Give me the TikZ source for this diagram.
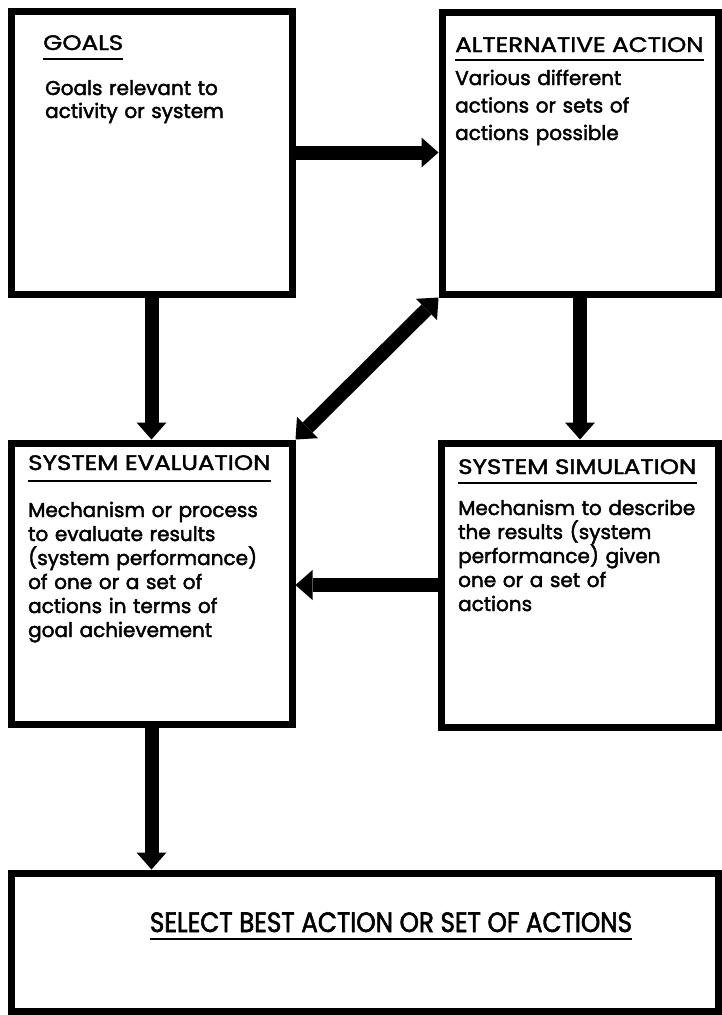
\documentclass[tikz,border=0pt]{standalone}
\usepackage{fontspec}
\setmainfont{Poppins}[FakeBold=2.2]
\newfontfamily\headfont[FakeBold=1.8, FakeStretch=1.17]{Poppins}
\newfontfamily\narrowfont[FakeBold=2, FakeStretch=0.88]{Poppins}
\usetikzlibrary{arrows.meta}

\tikzset{
  box/.style={draw, line width=7pt, inner sep=0pt},
  title/.style={anchor=base west, inner sep=0pt, font=\headfont\fontsize{21}{24}\selectfont},
  body/.style={anchor=base west, inner sep=0pt, text width=265pt, align=left,
    font=\fontsize{20}{24}\selectfont},
  rule/.style={line width=2.5pt},
  tip/.style={-{Triangle[length=17pt,width=30pt,line width=0pt]}},
  flow/.style={line width=14pt, tip},
}

\begin{document}
\begin{tikzpicture}[x=1pt, y=-1pt]
\useasboundingbox (0,0) rectangle (721,1015);

% boxes
\node[box, minimum width=281pt, minimum height=283pt] (goals) at (151.5,152.5) {};
\node[box, minimum width=276pt, minimum height=282pt] (alt) at (580,153) {};
\node[box, minimum width=281pt, minimum height=281pt] (eval) at (151.5,583.5) {};
\node[box, minimum width=277pt, minimum height=284pt] (sim) at (579.5,585) {};
\node[box, minimum width=707pt, minimum height=138pt] (select) at (364.5,942) {};

% titles and texts
\node[title] (goalstitle) at (43,50) {GOALS};
\draw[rule] ([yshift=-9pt]goalstitle.base west) -- ([yshift=-9pt]goalstitle.base east);
\node[body, font=\fontsize{20}{23}\selectfont] (goalstext) at (45,95) {Goals relevant to\\activity or system};

\node[title] (alttitle) at (455,52) {ALTERNATIVE ACTION};
\draw[rule] ([yshift=-8pt]alttitle.base west) -- ([yshift=-8pt]alttitle.base east);
\node[body, font=\fontsize{20}{27.5}\selectfont] (alttext) at (455,85) {Various different\\actions or sets of\\actions possible};

\node[title] (evaltitle) at (28,470) {SYSTEM EVALUATION};
\draw[rule] ([yshift=-11pt]evaltitle.base west) -- ([yshift=-11pt]evaltitle.base east);
\node[body] (evaltext) at (28,517) {Mechanism or process\\to evaluate results\\(system performance)\\of one or a set of\\actions in terms of\\goal achievement};

\node[title] (simtitle) at (458,474) {SYSTEM SIMULATION};
\draw[rule] ([yshift=-9pt]simtitle.base west) -- ([yshift=-9pt]simtitle.base east);
\node[body] (simtext) at (458,515) {Mechanism to describe\\the results (system\\performance) given\\one or a set of\\actions};

\node[inner sep=0pt, anchor=base, font=\narrowfont\fontsize{28}{28}\selectfont] (selecttext) at (391,932) {SELECT BEST ACTION OR SET OF ACTIONS};
\draw[rule] ([yshift=-7pt]selecttext.base west) -- ([yshift=-7pt]selecttext.base east);

% connectors
\draw[flow] (goals.east) -- (goals.east -| alt.west);
\draw[flow] (goals.south) -- (goals.south |- eval.north);
\draw[flow] (alt.south) -- (alt.south |- sim.north);
\draw[flow, {Triangle[length=17pt,width=30pt,line width=0pt]}-{Triangle[length=17pt,width=30pt,line width=0pt]}] (alt.south west) -- (eval.north east);
\draw[flow] (sim.west) -- (sim.west -| eval.east);
\draw[flow] (eval.south) -- (eval.south |- select.north);

\end{tikzpicture}
\end{document}
